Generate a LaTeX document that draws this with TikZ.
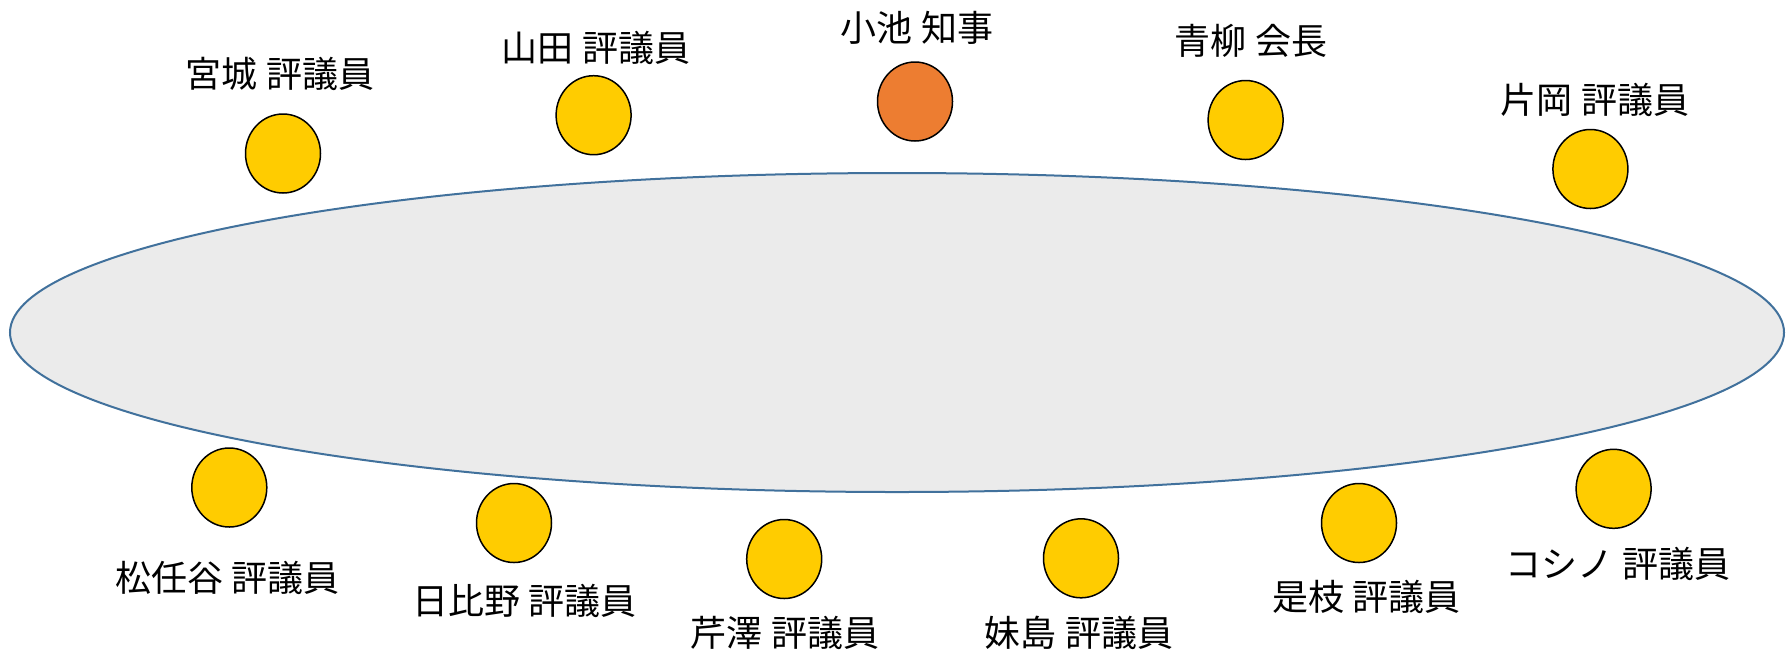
\documentclass[tikz,border=0pt]{standalone}
\usepackage{fontspec}
\usepackage{tikz}
\usetikzlibrary{shapes}
\newfontfamily\jpfont{Noto Sans CJK JP}
\definecolor{seatyellow}{HTML}{FFCC00}
\definecolor{seatorange}{HTML}{ED7D31}
\definecolor{tablegray}{HTML}{EBEBEB}
\definecolor{tableblue}{HTML}{41719C}
\newcommand{\seat}[4]{ \node[shape=ellipse,draw=black,fill=#4,line width=0.75pt,inner sep=0pt,minimum width=37.5pt,minimum height=39.5pt] (#1) at ( #2 , #3 ){};}
\newcommand{\seatlabel}[4]{ \node[font=\jpfont\fontsize{18}{20}\selectfont,inner sep=0pt] (#1) at ( #2 , #3 ){#4};}

\begin{document}
\begin{tikzpicture}[x=0.5pt,y=-0.5pt]
        \useasboundingbox ( 0 , 0 ) rectangle ( 1786 , 660 );
        % table
        \node[shape=ellipse,draw=tableblue,fill=tablegray,line width=1pt,inner sep=0pt,minimum width=887pt,minimum height=159.5pt] (table) at ( 897 , 332.5 ){};

        % upper side
        \seat{miyagi}{283}{153.5}{seatyellow}
        \seat{yamada}{593.6}{115.2}{seatyellow}
        \seat{koike}{915}{101.5}{seatorange}
        \seat{aoyagi}{1245.6}{120}{seatyellow}
        \seat{kataoka}{1590.4}{169}{seatyellow}
        % lower side
        \seat{matsutoya}{229.3}{487.5}{seatyellow}
        \seat{hibino}{514}{523}{seatyellow}
        \seat{serizawa}{784.2}{559}{seatyellow}
        \seat{imajima}{1081}{558.3}{seatyellow}
        \seat{koreeda}{1359}{523}{seatyellow}
        \seat{koshino}{1613.6}{488.8}{seatyellow}

        % text
        \seatlabel{miyagi-t}{280}{74}{宮城 評議員}
        \seatlabel{yamada-t}{596}{47.5}{山田 評議員}
        \seatlabel{koike-t}{917}{28.3}{小池 知事}
        \seatlabel{aoyagi-t}{1251}{41.2}{青柳 会長}
        \seatlabel{kataoka-t}{1595}{99.8}{片岡 評議員}
        \seatlabel{matsutoya-t}{227.6}{577.5}{松任谷 評議員}
        \seatlabel{hibino-t}{524.7}{601}{日比野 評議員}
        \seatlabel{serizawa-t}{785}{633}{芹澤 評議員}
        \seatlabel{imajima-t}{1079}{633}{妹島 評議員}
        \seatlabel{koreeda-t}{1366.8}{596.7}{是枝 評議員}
        \seatlabel{koshino-t}{1618}{564}{コシノ 評議員}
    \end{tikzpicture}
\end{document}
